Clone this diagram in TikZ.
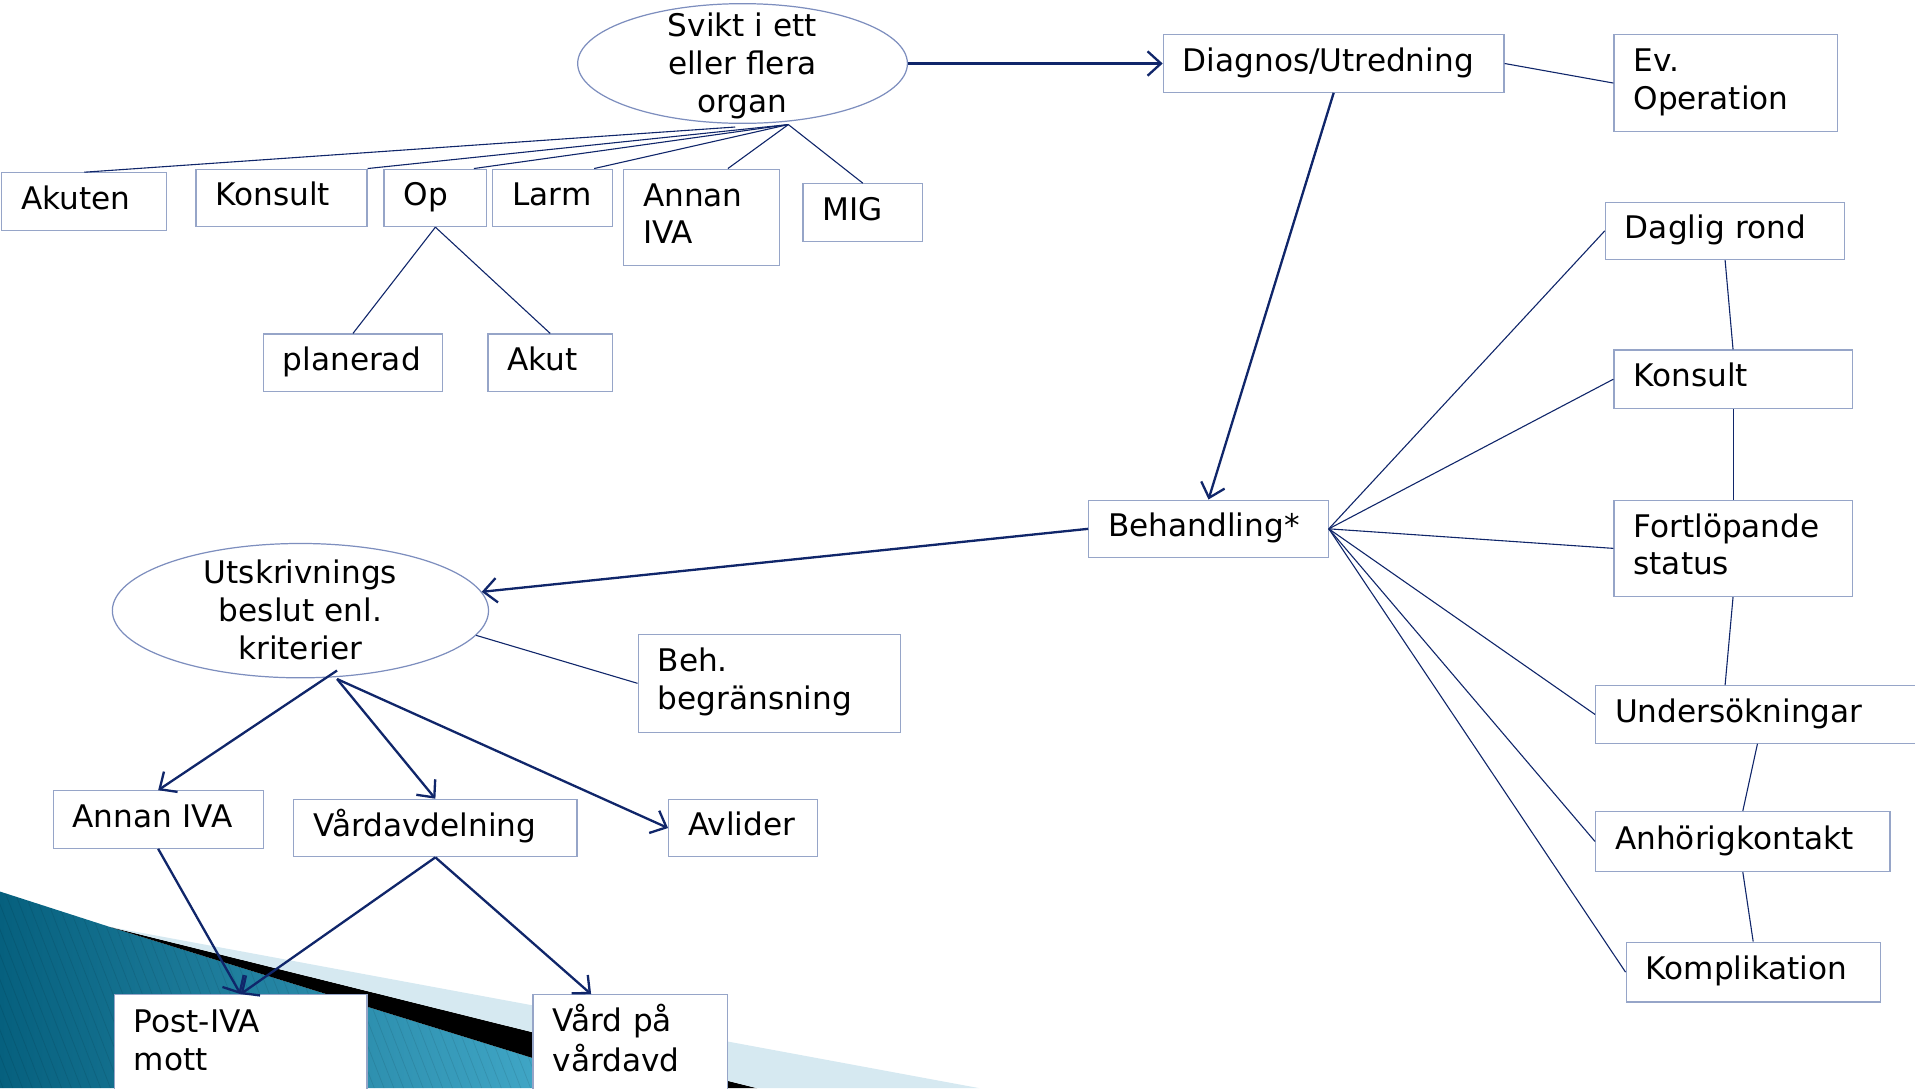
\documentclass[tikz,border=0pt]{standalone}
\usepackage{fontspec}
\setmainfont{DejaVu Sans}
\usetikzlibrary{arrows.meta,shapes.geometric}

\definecolor{navy}{RGB}{16,38,106}
\definecolor{boxline}{RGB}{150,165,200}
\definecolor{ovalline}{RGB}{125,142,190}
\definecolor{tealdark}{RGB}{6,96,126}
\definecolor{teallight}{RGB}{74,178,210}
\definecolor{paleblue}{RGB}{214,233,241}

\newcommand\topstrut{\rule{0pt}{27pt}}
\newcommand\botstrut{\rule[-9.3pt]{0pt}{9.3pt}}

\begin{document}
\begin{tikzpicture}[x=1pt,y=-1pt,
  every node/.style={font=\fontsize{25.5}{31}\selectfont},
  card/.style={rectangle, draw=boxline, line width=1pt, fill=white,
    anchor=north west, inner xsep=16pt, inner ysep=0pt, align=left,
    execute at begin node=\strut, execute at end node=\strut},
  oval/.style={ellipse, draw=ovalline, line width=1pt, fill=white,
    inner xsep=0pt, inner ysep=-18pt, align=center},
  thin/.style={draw=navy, line width=0.9pt},
  flow/.style={draw=navy, line width=1.9pt,
    -{Straight Barb[length=11pt,width=20pt]}}]

\useasboundingbox (0,0) rectangle (1568,891);
\clip (0,0) rectangle (1568,891);

% corner ribbon, lower left
\begin{scope}
  \shade[left color=tealdark, right color=teallight]
    (0,730) -- (90,759) -- (516,891) -- (0,891) -- cycle;
  \begin{scope}
    \clip (0,730) -- (90,759) -- (516,891) -- (0,891) -- cycle;
    \foreach \i in {-80,-72,...,520}
      \draw[black, opacity=0.09, line width=0.6pt] (\i,720) -- (\i+70,900);
  \end{scope}
  \fill[black] (90,759) -- (620,891) -- (516,891) -- cycle;
  \fill[paleblue] (90,759) -- (802,891) -- (620,891) -- cycle;
\end{scope}

% ovals
\node[oval, minimum width=270pt, minimum height=98pt] (svikt) at (608,52)
  {\topstrut Svikt i ett\\eller flera\\organ\botstrut};
\node[oval, minimum width=308pt, minimum height=110pt] (utskr) at (246,500)
  {\topstrut Utskrivnings\\beslut enl.\\kriterier\botstrut};

% boxes
\node[card, text width=247pt, minimum height=47pt] (diag) at (952,28) {Diagnos/Utredning};
\node[card, text width=151pt, minimum height=79pt] (evop) at (1321,28) {Ev.\\Operation};

\node[card, text width=103pt, minimum height=47pt] (akuten) at (1,141) {Akuten};
\node[card, text width=108pt, minimum height=47pt] (konsL) at (160,138) {Konsult};
\node[card, text width=52pt, minimum height=47pt] (op) at (314,138) {Op};
\node[card, text width=66pt, minimum height=47pt] (larm) at (403,138) {Larm};
\node[card, text width=96pt, minimum height=79pt] (annan) at (510,138) {Annan\\IVA};
\node[card, text width=66pt, minimum height=47pt] (mig) at (657,150) {MIG};
\node[card, text width=115pt, minimum height=47pt] (plan) at (215,273) {planerad};
\node[card, text width=70pt, minimum height=47pt] (akut) at (399,273) {Akut};

\node[card, text width=164pt, minimum height=47pt] (daglig) at (1314,165) {Daglig rond};
\node[card, text width=163pt, minimum height=48pt] (konsR) at (1321,286) {Konsult};
\node[card, text width=163pt, minimum height=79pt] (fort) at (1321,409) {Fortlöpande\\status};
\node[card, text width=242pt, minimum height=47pt] (unders) at (1306,561) {Undersökningar};
\node[card, text width=209pt, minimum height=49pt] (anh) at (1306,664) {Anhörigkontakt};
\node[card, text width=176pt, minimum height=49pt] (kompl) at (1331,771) {Komplikation};

\node[card, text width=164pt, minimum height=47pt] (beh) at (891,409) {Behandling*};
\node[card, text width=183pt, minimum height=80pt] (begr) at (522,519) {Beh.\\begränsning};

\node[card, text width=140pt, minimum height=47pt] (annanB) at (43,647) {Annan IVA};
\node[card, text width=200pt, minimum height=47pt] (vard) at (240,654) {Vårdavdelning};
\node[card, text width=90pt, minimum height=47pt] (avl) at (547,654) {Avlider};
\node[card, text width=175pt, minimum height=80pt] (post) at (93,814) {Post-IVA\\mott};
\node[card, text width=127pt, minimum height=80pt] (vpv) at (436,814) {Vård på\\vårdavd};

% fan-out points under the ovals
\coordinate (sv1) at (602,104);
\coordinate (sv2) at (645.5,102);
\coordinate (ut1) at (276,549);
\coordinate (ut2) at (276,556);

% main flow
\draw[flow] (svikt.east) -- (diag.west);
\draw[flow] (diag.south) -- (beh.north);
\draw[flow] (beh.west) -- (utskr);
\draw[flow] (ut1) -- (annanB.north);
\draw[flow] (ut2) -- (vard.north);
\draw[flow] (ut2) -- (avl.west);
\draw[flow] (annanB.south) -- (post.north);
\draw[flow] (vard.south) -- (post.north);
\draw[flow] (vard.south) -- ([xshift=48pt]vpv.north west);

% plain links
\draw[thin] (diag.east) -- (evop.west);
\draw[thin] (sv1) -- (akuten.north);
\draw[thin] (sv2) -- (konsL.north east);
\draw[thin] (sv2) -- ([xshift=-11pt]op.north east);
\draw[thin] (sv2) -- ([xshift=-15.5pt]larm.north east);
\draw[thin] (sv2) -- ([xshift=-43pt]annan.north east);
\draw[thin] (sv2) -- (mig.north);
\draw[thin] (op.south) -- (plan.north);
\draw[thin] (op.south) -- (akut.north);

\foreach \t in {daglig,konsR,fort,unders,anh,kompl}
  \draw[thin] (beh.east) -- (\t.west);
\draw[thin] (daglig.south) -- (konsR.north);
\draw[thin] (konsR.south) -- (fort.north);
\draw[thin] (fort.south) -- ([xshift=106.5pt]unders.north west);
\draw[thin] ([xshift=133pt]unders.south west) -- (anh.north);
\draw[thin] (anh.south) -- (kompl.north);

\draw[thin] (utskr.-8) -- (begr.west);
\end{tikzpicture}
\end{document}
